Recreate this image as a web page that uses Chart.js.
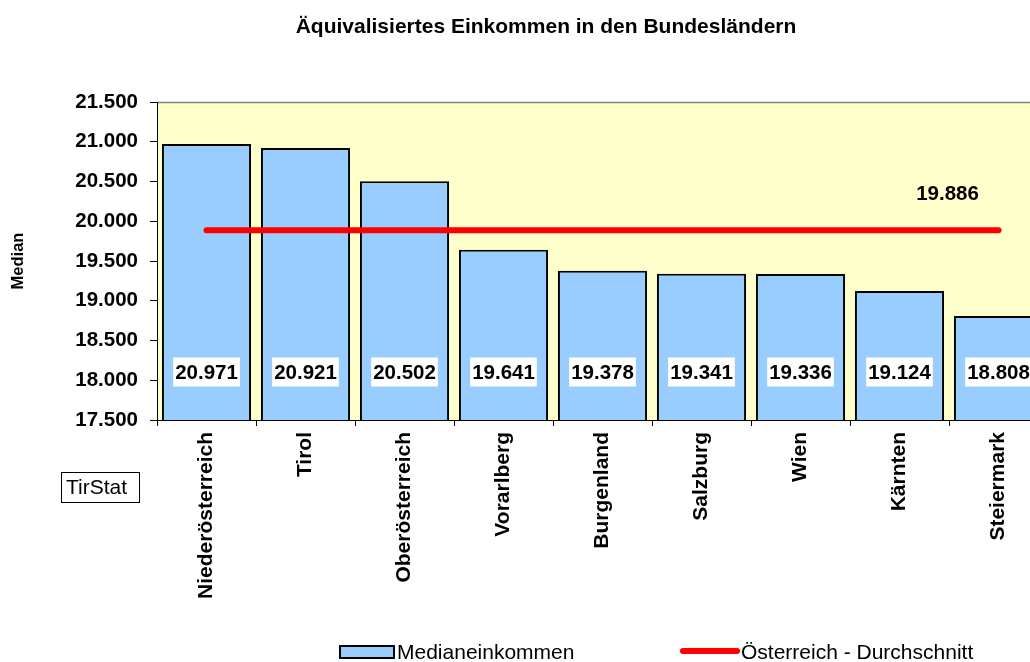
<!DOCTYPE html>
<html>
<head>
<meta charset="utf-8">
<script src="https://cdn.jsdelivr.net/npm/chart.js@4/dist/chart.umd.min.js"></script>
<style>
html,body{margin:0;padding:0;background:#fff;overflow:hidden;width:1030px;height:662px;}
#wrap{position:absolute;left:0;top:0;width:1100px;height:662px;}
</style>
</head>
<body>
<div id="wrap"><canvas id="c" width="1100" height="662"></canvas></div>
<script>
const categories = ["Niederösterreich","Tirol","Oberösterreich","Vorarlberg","Burgenland","Salzburg","Wien","Kärnten","Steiermark"];
const medianIncome = [20971,20921,20502,19641,19378,19341,19336,19124,18808];
const austriaAverage = [19886,19886,19886,19886,19886,19886,19886,19886,19886];
const yTicks = {min:17500, max:21500, step:500};
const chartTitle = "Äquivalisiertes Einkommen in den Bundesländern";
const yTitle = "Median";
const seriesNames = ["Medianeinkommen","Österreich - Durchschnitt"];

const FONT = "'Liberation Sans', Arial, sans-serif";
function fmt(v){
  const s = Math.round(v).toString();
  return s.replace(/\B(?=(\d{3})+(?!\d))/g, ".");
}

const decor = {
  id:'decor',
  beforeDraw(chart){
    const {ctx, chartArea:a} = chart;
    ctx.save();
    ctx.fillStyle = '#fff';
    ctx.fillRect(0,0,chart.width,chart.height);
    ctx.fillStyle = '#FFFFCC';
    ctx.fillRect(a.left,a.top,a.right-a.left,a.bottom-a.top);
    ctx.strokeStyle = '#808080';
    ctx.lineWidth = 1.5;
    ctx.beginPath();
    ctx.moveTo(a.left,a.top+0.5);
    ctx.lineTo(a.right,a.top+0.5);
    ctx.lineTo(a.right,a.bottom);
    ctx.stroke();
    ctx.restore();
  },
  afterDatasetsDraw(chart){
    const {ctx} = chart;
    const yS = chart.scales.y;
    ctx.save();
    // bar value labels
    const bars = chart.getDatasetMeta(0).data;
    ctx.font = "bold 20.5px " + FONT;
    ctx.textAlign = 'center';
    ctx.textBaseline = 'middle';
    bars.forEach((b,i)=>{
      const txt = fmt(medianIncome[i]);
      const w = ctx.measureText(txt).width + 4;
      const cy = yS.bottom - 48;
      ctx.fillStyle = '#fff';
      ctx.fillRect(b.x - w/2, cy - 14.5, w, 29);
      ctx.fillStyle = '#000';
      ctx.fillText(txt, b.x, cy + 1);
    });
    // average label
    const pts = chart.getDatasetMeta(1).data;
    const last = pts[pts.length-1];
    ctx.fillText(fmt(austriaAverage[austriaAverage.length-1]), last.x - 51, last.y - 36);
    // title
    ctx.font = "bold 21px " + FONT;
    ctx.fillText(chartTitle, 546, 27);
    // TirStat box
    ctx.strokeStyle = '#000';
    ctx.lineWidth = 1;
    ctx.strokeRect(61.5,472.5,78,30);
    ctx.font = "21px " + FONT;
    ctx.textAlign = 'left';
    ctx.fillText("TirStat", 66, 488);
    // legend
    ctx.fillStyle = '#99CCFF';
    ctx.fillRect(340,646,54,12);
    ctx.lineWidth = 2;
    ctx.strokeStyle = '#000';
    ctx.strokeRect(340,646,54,12);
    ctx.fillStyle = '#000';
    ctx.font = "21px " + FONT;
    ctx.fillText(seriesNames[0], 397, 653);
    ctx.strokeStyle = '#FF0000';
    ctx.lineWidth = 6;
    ctx.lineCap = 'round';
    ctx.beginPath();
    ctx.moveTo(683,651);
    ctx.lineTo(737,651);
    ctx.stroke();
    ctx.fillText(seriesNames[1], 741, 653);
    ctx.restore();
  }
};

new Chart(document.getElementById('c'), {
  data:{
    labels:categories,
    datasets:[
      {type:'bar', label:seriesNames[0], data:medianIncome, backgroundColor:'#99CCFF', borderColor:'#000', borderWidth:2, barPercentage:0.9, categoryPercentage:1.0, order:1},
      {type:'line', label:seriesNames[1], data:austriaAverage, borderColor:'#FF0000', borderWidth:6, pointRadius:0, borderCapStyle:'round', fill:false, order:0}
    ]
  },
  options:{
    responsive:false,
    animation:false,
    events:[],
    layout:{padding:{left:0,right:52,top:102,bottom:0}},
    plugins:{legend:{display:false}, title:{display:false}, tooltip:{enabled:false}},
    scales:{
      x:{
        grid:{display:true, drawOnChartArea:false, drawTicks:true, tickLength:6, color:'#000', offset:true},
        border:{display:true, color:'#000', width:1},
        ticks:{color:'#000', font:{family:FONT, size:21, weight:'bold'}, maxRotation:90, minRotation:90, padding:6, autoSkip:false},
        afterFit(s){ s.height = 242; }
      },
      y:{
        min:yTicks.min, max:yTicks.max,
        grid:{display:true, drawOnChartArea:false, drawTicks:true, tickLength:7, color:'#000'},
        border:{display:true, color:'#000', width:1},
        ticks:{stepSize:yTicks.step, color:'#000', font:{family:FONT, size:20.5, weight:'bold'}, padding:12, callback:(v)=>fmt(v)},
        title:{display:true, text:yTitle, color:'#000', font:{family:FONT, size:16.5, weight:'bold'}, padding:{top:9,bottom:0}},
        afterFit(s){ s.width = 157; }
      }
    }
  },
  plugins:[decor]
});
</script>
</body>
</html>
